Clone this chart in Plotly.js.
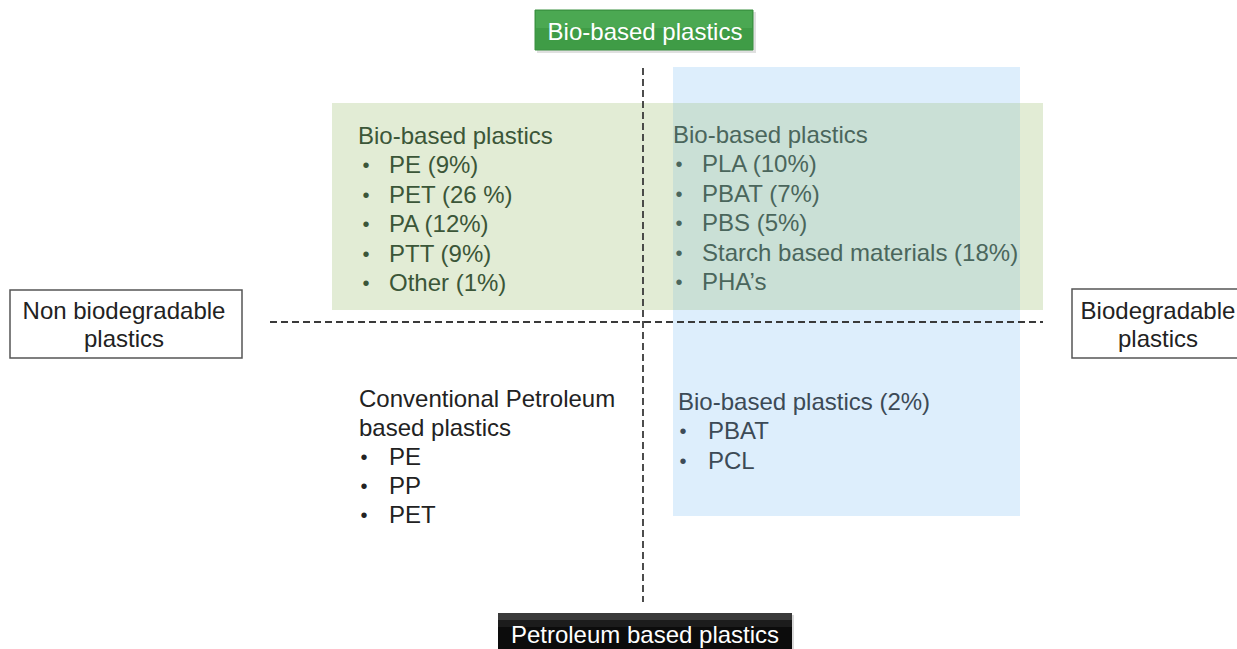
<!DOCTYPE html>
<html>
<head>
<meta charset="utf-8">
<script src="https://cdn.plot.ly/plotly-3.0.1.min.js"></script>
<style>html,body{margin:0;padding:0;background:#fff;}#chart{width:1237px;height:649px;}</style>
</head>
<body>
<div id="chart"></div>
<script>
// ---- content (text only) ----
const axisTop = 'Bio-based plastics';
const axisBottom = 'Petroleum based plastics';
const axisLeft = ['Non biodegradable', 'plastics'];
const axisRight = ['Biodegradable', 'plastics'];

const upperLeftTitle = ['Bio-based plastics'];
const upperLeftItems = ['PE (9%)', 'PET (26 %)', 'PA (12%)', 'PTT (9%)', 'Other (1%)'];

const upperRightTitle = ['Bio-based plastics'];
const upperRightItems = ['PLA (10%)', 'PBAT (7%)', 'PBS (5%)', 'Starch based materials (18%)', 'PHA\u2019s'];

const lowerLeftTitle = ['Conventional Petroleum', 'based plastics'];
const lowerLeftItems = ['PE', 'PP', 'PET'];

const lowerRightTitle = ['Bio-based plastics (2%)'];
const lowerRightItems = ['PBAT', 'PCL'];

// ---- layout helpers ----
const FONT = '"Liberation Sans", Arial, Helvetica, sans-serif';
const FS = 24;
const DY = 3; // vertical text nudge
const traces = [];

function block(titleLines, items, x0, y0, bulletX, itemX, step, color) {
  const tx = [], ty = [], bx = [], by = [], ix = [], iy = [];
  titleLines.forEach((t, i) => { tx.push(x0); ty.push(y0 + DY + i * step); });
  const n = titleLines.length;
  items.forEach((t, i) => {
    bx.push(bulletX); by.push(y0 + DY + (n + i) * step);
    ix.push(itemX); iy.push(y0 + DY + (n + i) * step);
  });
  const f = {family: FONT, size: FS, color: color};
  traces.push({type: 'scatter', mode: 'text', x: tx, y: ty, text: titleLines,
    textposition: 'middle right', textfont: f, hoverinfo: 'skip', showlegend: false});
  traces.push({type: 'scatter', mode: 'text', x: bx, y: by, text: items.map(() => '\u2022'),
    textposition: 'middle center', textfont: {family: FONT, size: 20, color: color}, hoverinfo: 'skip', showlegend: false});
  traces.push({type: 'scatter', mode: 'text', x: ix, y: iy, text: items,
    textposition: 'middle right', textfont: f, hoverinfo: 'skip', showlegend: false});
}

block(upperLeftTitle, upperLeftItems, 358, 135, 366, 389, 29.4, '#3b5638');
block(upperRightTitle, upperRightItems, 673, 134, 679, 702, 29.4, '#4a665c');
block(lowerLeftTitle, lowerLeftItems, 359, 398, 364, 389, 29, '#222222');
block(lowerRightTitle, lowerRightItems, 678, 401, 683, 708, 29.3, '#3c4a56');

function centered(lines, cx, y0, step, color) {
  traces.push({type: 'scatter', mode: 'text', x: lines.map(() => cx),
    y: lines.map((t, i) => y0 + DY + i * step), text: lines, textposition: 'middle center',
    textfont: {family: FONT, size: FS, color: color}, hoverinfo: 'skip', showlegend: false});
}
centered([axisTop], 645, 31, 0, '#ffffff');
centered([axisBottom], 645, 634, 0, '#ffffff');
centered(axisLeft, 124, 310, 28, '#222222');
centered(axisRight, 1158, 310, 28, '#222222');

const DASH = {color: '#3a3a3a', width: 1.8, dash: '7px,4px'};
const shapes = [
  // regions
  {type: 'rect', x0: 332, x1: 1043, y0: 103, y1: 310, fillcolor: '#e2ecd5', line: {width: 0}, layer: 'below'},
  {type: 'rect', x0: 673, x1: 1020, y0: 67, y1: 516, fillcolor: '#ddeefc', line: {width: 0}, layer: 'below'},
  {type: 'rect', x0: 673, x1: 1020, y0: 103, y1: 310, fillcolor: '#cae0d6', line: {width: 0}, layer: 'below'},
  // dashed axes
  {type: 'line', x0: 643, x1: 643, y0: 68, y1: 602, line: DASH, layer: 'below'},
  {type: 'line', x0: 270, x1: 1043, y0: 322, y1: 322, line: DASH, layer: 'below'},
  // side boxes
  {type: 'rect', x0: 10, x1: 242, y0: 290, y1: 358, fillcolor: '#ffffff', line: {color: '#555555', width: 1.5}, layer: 'below'},
  {type: 'rect', x0: 1072, x1: 1250, y0: 289, y1: 358, fillcolor: '#ffffff', line: {color: '#555555', width: 1.5}, layer: 'below'},
  // top label with shadow
  {type: 'rect', x0: 537, x1: 756, y0: 12, y1: 53, fillcolor: 'rgba(0,0,0,0.12)', line: {width: 0}, layer: 'below'},
  {type: 'rect', x0: 535, x1: 753, y0: 10, y1: 50, fillcolor: '#3f9c46', line: {color: '#3a9040', width: 1}, layer: 'below'},
  {type: 'rect', x0: 536, x1: 752, y0: 11, y1: 28, fillcolor: '#4ba852', line: {width: 0}, layer: 'below'},
  // bottom label
  {type: 'rect', x0: 500, x1: 794, y0: 615, y1: 652, fillcolor: 'rgba(0,0,0,0.15)', line: {width: 0}, layer: 'below'},
  {type: 'rect', x0: 498, x1: 792, y0: 613, y1: 652, fillcolor: '#0c0c0c', line: {width: 0}, layer: 'below'},
  {type: 'rect', x0: 498, x1: 792, y0: 613, y1: 620, fillcolor: '#3a3a3a', line: {width: 0}, layer: 'below'},
  {type: 'rect', x0: 498, x1: 792, y0: 620, y1: 627, fillcolor: '#1c1c1c', line: {width: 0}, layer: 'below'}
];

const layout = {
  width: 1237, height: 649,
  margin: {l: 0, r: 0, t: 0, b: 0, pad: 0},
  paper_bgcolor: '#ffffff', plot_bgcolor: '#ffffff',
  xaxis: {range: [0, 1237], visible: false, fixedrange: true},
  yaxis: {range: [649, 0], visible: false, fixedrange: true},
  shapes: shapes,
  showlegend: false
};

Plotly.newPlot('chart', traces, layout, {staticPlot: true, displayModeBar: false});
</script>
</body>
</html>
